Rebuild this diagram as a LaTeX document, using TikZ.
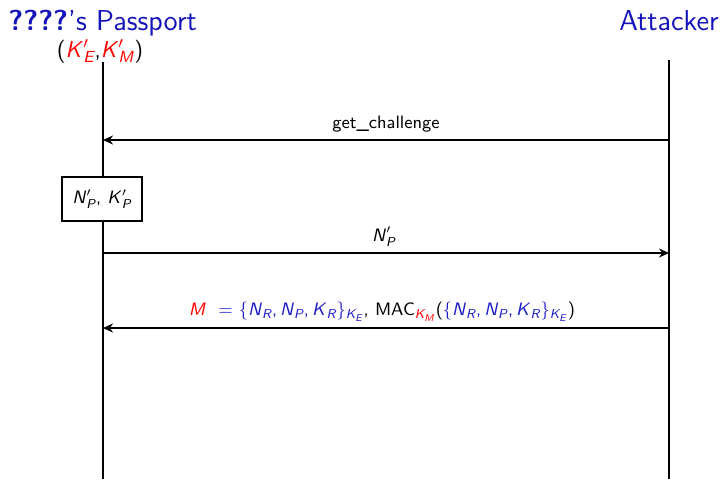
\documentclass[tikz,border=0pt]{standalone}
\usetikzlibrary{arrows.meta}
\definecolor{tblue}{RGB}{20,20,185}
\definecolor{mblue}{RGB}{30,30,200}
% italic sans variable with subscript (size of subscript given)
\newcommand\vsub[3][6.5]{\textit{#2}$_{\mbox{\fontsize{#1}{#1}\selectfont\itshape #3}}$}
\newcommand\vpsub[3][6.5]{\textit{#2}$'_{\mbox{\fontsize{#1}{#1}\selectfont\itshape #3}}$}
\newcommand\setR{$\{$\vsub{N}{R},\,\vsub{N}{P},\,\vsub{K}{R}$\}_{\mbox{\fontsize{6.5}{7}\selectfont\itshape K$_{\mbox{\fontsize{5}{5}\selectfont\itshape E}}$}}$}
\tikzset{
  life/.style={line width=0.8pt},
  msg/.style={line width=0.8pt,-{Stealth[length=5pt,width=4.5pt]}},
  lbl/.style={font=\sffamily\fontsize{9}{10}\selectfont,inner sep=0pt},
  head/.style={font=\sffamily\fontsize{14.4}{16}\selectfont,text=tblue,inner sep=0pt},
  keybox/.style={draw,line width=0.8pt,fill=white,minimum width=40pt,minimum height=22pt,inner sep=0pt,font=\sffamily\fontsize{9}{11}\selectfont}
}
\begin{document}
\begin{tikzpicture}[x=0.5pt,y=-0.5pt]
\useasboundingbox (0,0) rectangle (722,479);
% headers
\node[head,anchor=base west] (pt) at (8,30) {\textbf{????}'s Passport};
\node[head,anchor=base east] (at) at (719,30) {Attacker};
\node[font=\sffamily\fontsize{11.5}{13}\selectfont,inner sep=0pt,anchor=base] (pk) at (100,57) {({\color{red}\vpsub[8]{K}{E}},{\color{red}\vpsub[8]{K}{M}})};
% lifelines
\coordinate (ptop) at (103,62);
\coordinate (pbot) at (103,479);
\coordinate (atop) at (669,60);
\coordinate (abot) at (669,479);
\draw[life] (ptop) -- (pbot);
\draw[life] (atop) -- (abot);
% box
\node[keybox] (nb) at (102,199) {\vpsub{N}{P}, \vpsub{K}{P}};
% messages
\coordinate (a1) at (669,140); \coordinate (p1) at (103,140);
\coordinate (p2) at (103,253); \coordinate (a2) at (669,253);
\coordinate (a3) at (669,328); \coordinate (p3) at (103,328);
\draw[msg] (a1) -- node[lbl,above=3.5pt] (l1) {get\_challenge} (p1);
\draw[msg] (p2) -- node[lbl,above=3pt,xshift=-1pt] (l2) {\vpsub{N}{P}} (a2);
\draw[msg] (a3) -- node[lbl,above=3pt,xshift=-2pt] (l3) {{\color{red}\textit{M}}\ \ {\color{mblue}$=$ \setR},\ MAC$_{\mbox{\color{red}\fontsize{6.5}{7}\selectfont\itshape K$_{\mbox{\fontsize{5}{5}\selectfont\itshape M}}$}}$({\color{mblue}\setR})} (p3);
\end{tikzpicture}
\end{document}
